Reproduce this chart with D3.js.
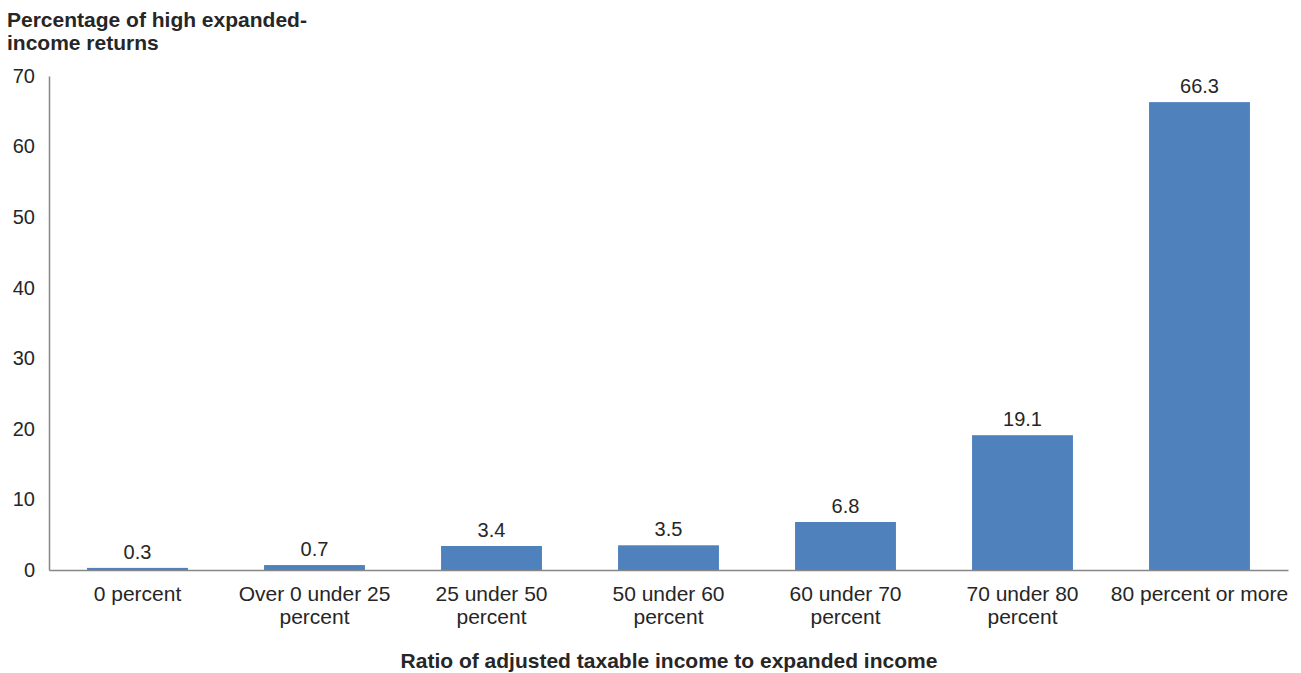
<!DOCTYPE html>
<html>
<head>
<meta charset="utf-8">
<script src="https://cdn.jsdelivr.net/npm/d3@7"></script>
<style>
  body { margin: 0; background: #fff; }
  svg { font-family: "Liberation Sans", Arial, sans-serif; }
</style>
</head>
<body>
<div id="chart"></div>
<script>
// categories (x axis), one label line per array entry
var categories = [
    ["0 percent"],
    ["Over 0 under 25", "percent"],
    ["25 under 50", "percent"],
    ["50 under 60", "percent"],
    ["60 under 70", "percent"],
    ["70 under 80", "percent"],
    ["80 percent or more"]
];
var values = [0.3, 0.7, 3.4, 3.5, 6.8, 19.1, 66.3];
var yTicks = [0, 10, 20, 30, 40, 50, 60, 70];

var data = categories.map(function (c, i) {
    return { group: c.join(" "), lines: c, value: values[i] };
});

var W = 1301, H = 673;
var margin = { top: 76, right: 13, bottom: 103, left: 49 },
    width = W - margin.left - margin.right,
    height = H - margin.top - margin.bottom;

var textColor = "#262626";

var svg = d3.select("#chart").append("svg")
    .attr("width", W)
    .attr("height", H);

var g = svg.append("g")
    .attr("transform", "translate(" + margin.left + "," + margin.top + ")");

var x = d3.scaleBand()
    .domain(data.map(function (d) { return d.group; }))
    .range([0, width])
    .paddingInner(0.43)
    .paddingOuter(0.215);

var y = d3.scaleLinear()
    .domain([0, 70])
    .range([height, 0]);

// Y axis: line only, no tick marks
var yAxis = g.append("g")
    .call(d3.axisLeft(y).tickValues(yTicks).tickSize(0).tickPadding(14));
yAxis.select(".domain").attr("stroke", "#868686").attr("stroke-width", 1.5);
yAxis.selectAll("text")
    .attr("font-size", 20)
    .attr("fill", textColor);

// bars
g.selectAll("rect.bar")
    .data(data)
    .enter()
    .append("rect")
    .attr("class", "bar")
    .attr("x", function (d) { return x(d.group); })
    .attr("y", function (d) { return y(d.value); })
    .attr("width", x.bandwidth())
    .attr("height", function (d) { return height - y(d.value); })
    .attr("fill", "#4F81BD");

// value labels
g.selectAll("text.val")
    .data(data)
    .enter()
    .append("text")
    .attr("class", "val")
    .attr("x", function (d) { return x(d.group) + x.bandwidth() / 2; })
    .attr("y", function (d) { return y(d.value) - 9; })
    .attr("text-anchor", "middle")
    .attr("font-size", 20)
    .attr("fill", textColor)
    .text(function (d) { return d.value.toFixed(1); });

// X axis
var xAxis = g.append("g")
    .attr("transform", "translate(0," + height + ")")
    .call(d3.axisBottom(x).tickSize(0).tickFormat(""));
xAxis.select(".domain").attr("stroke", "#868686").attr("stroke-width", 1.5);

xAxis.selectAll(".tick").each(function (grp) {
    var d = data.find(function (e) { return e.group === grp; });
    var t = d3.select(this).append("text")
        .attr("text-anchor", "middle")
        .attr("font-size", 21)
        .attr("fill", textColor);
    d.lines.forEach(function (line, i) {
        t.append("tspan")
            .attr("x", 0)
            .attr("y", 31 + i * 23)
            .text(line);
    });
});

// axis titles
svg.append("text")
    .attr("x", 7)
    .attr("y", 27)
    .attr("font-size", 21)
    .attr("font-weight", "bold")
    .attr("fill", textColor)
    .text("Percentage of high expanded-");
svg.append("text")
    .attr("x", 7)
    .attr("y", 50)
    .attr("font-size", 21)
    .attr("font-weight", "bold")
    .attr("fill", textColor)
    .text("income returns");

svg.append("text")
    .attr("x", 669)
    .attr("y", 668)
    .attr("text-anchor", "middle")
    .attr("font-size", 21)
    .attr("font-weight", "bold")
    .attr("fill", textColor)
    .text("Ratio of adjusted taxable income to expanded income");
</script>
</body>
</html>
